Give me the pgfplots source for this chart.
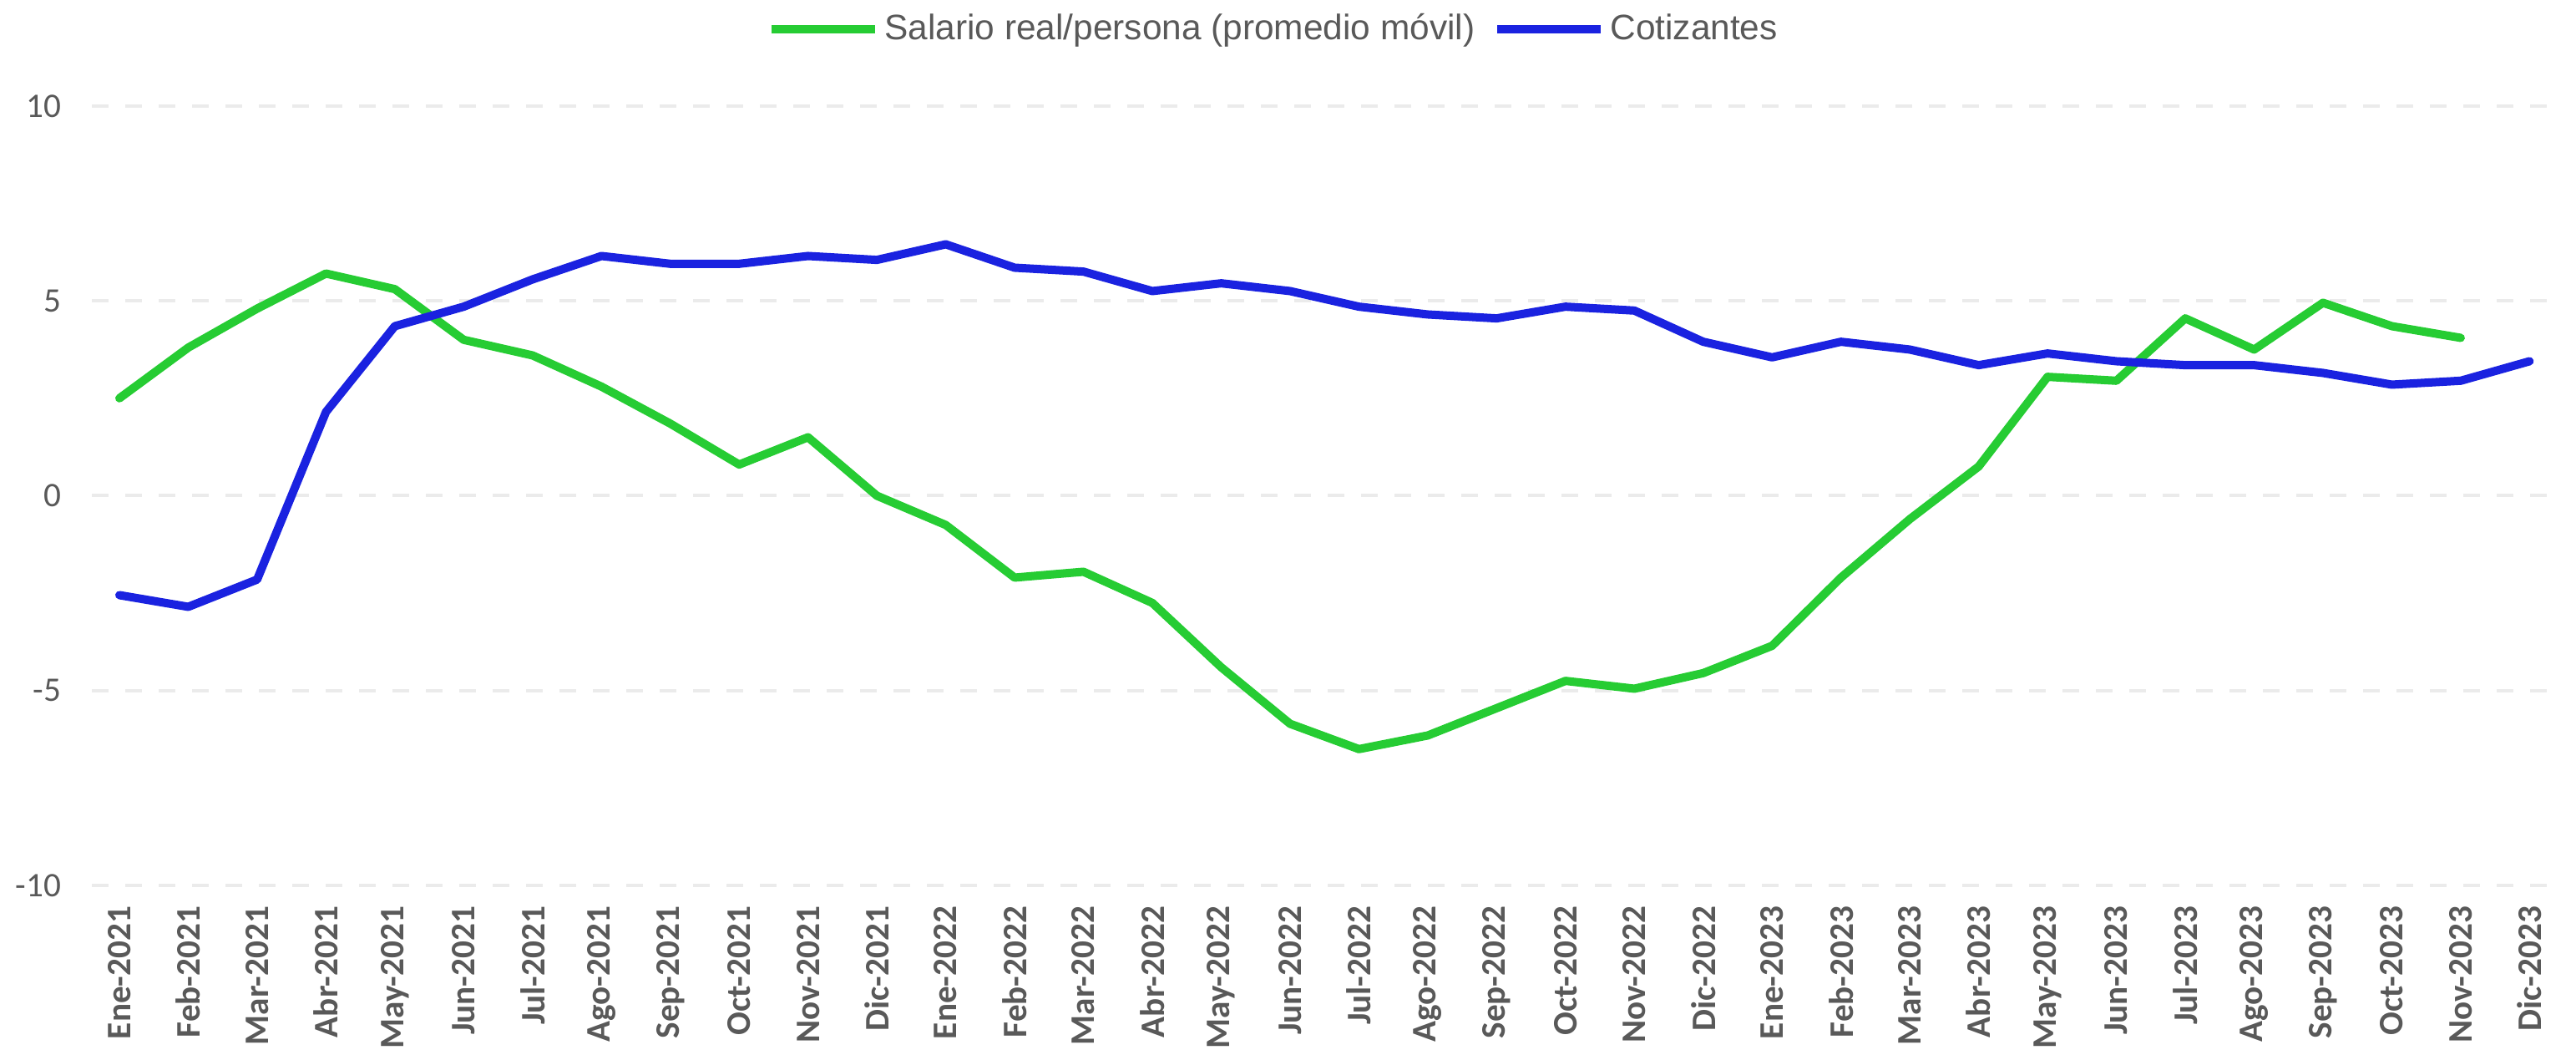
\documentclass[border=0pt]{standalone}
\usepackage{pgfplots}
\pgfplotsset{compat=1.18}
\usepackage{fontspec}
\setmainfont{Carlito}
\newfontfamily\legendfont{Liberation Sans}
\definecolor{cgreen}{HTML}{26CC33}
\definecolor{cblue}{HTML}{1A22E0}
\definecolor{ctext}{HTML}{595959}
\definecolor{cgrid}{HTML}{EBEBEB}

\pgfplotstableread{
x y
0 2.5
1 3.8
2 4.8
3 5.7
4 5.3
5 4.0
6 3.6
7 2.8
8 1.85
9 0.8
10 1.5
11 0.0
12 -0.75
13 -2.1
14 -1.95
15 -2.75
16 -4.4
17 -5.85
18 -6.5
19 -6.15
20 -5.45
21 -4.75
22 -4.95
23 -4.55
24 -3.85
25 -2.1
26 -0.6
27 0.75
28 3.05
29 2.95
30 4.55
31 3.75
32 4.95
33 4.35
34 4.05
}\salario

\pgfplotstableread{
x y
0 -2.55
1 -2.85
2 -2.15
3 2.15
4 4.35
5 4.85
6 5.55
7 6.15
8 5.95
9 5.95
10 6.15
11 6.05
12 6.45
13 5.85
14 5.75
15 5.25
16 5.45
17 5.25
18 4.85
19 4.65
20 4.55
21 4.85
22 4.75
23 3.95
24 3.55
25 3.95
26 3.75
27 3.35
28 3.65
29 3.45
30 3.35
31 3.35
32 3.15
33 2.85
34 2.95
35 3.45
}\cotizantes

\begin{document}
\begin{tikzpicture}
\useasboundingbox (-27.5bp,-50.5bp) rectangle (743.65bp,265bp);
\begin{axis}[
  at={(0,0)}, anchor=south west,
  scale only axis, width=734.9bp, height=233.3bp,
  xmin=-0.4, xmax=35.25, ymin=-10, ymax=10,
  axis lines*=left,
  axis line style={draw=none},
  major tick length=0pt,
  tick style={draw=none},
  xtick={0,...,35},
  xticklabels={Ene-2021,Feb-2021,Mar-2021,Abr-2021,May-2021,Jun-2021,Jul-2021,Ago-2021,Sep-2021,Oct-2021,Nov-2021,Dic-2021,
               Ene-2022,Feb-2022,Mar-2022,Abr-2022,May-2022,Jun-2022,Jul-2022,Ago-2022,Sep-2022,Oct-2022,Nov-2022,Dic-2022,
               Ene-2023,Feb-2023,Mar-2023,Abr-2023,May-2023,Jun-2023,Jul-2023,Ago-2023,Sep-2023,Oct-2023,Nov-2023,Dic-2023},
  xticklabel style={rotate=90, anchor=east, font=\bfseries\fontsize{10.3bp}{12bp}\selectfont, text=ctext, inner xsep=6bp},
  ytick={-10,-5,0,5,10},
  yticklabels={-10,-5,0,5,10},
  yticklabel style={font=\fontsize{10.3bp}{12bp}\selectfont, text=ctext, inner xsep=9bp},
  ymajorgrids,
  grid style={cgrid, line width=1bp, dash pattern=on 5bp off 5bp},
  legend columns=2,
  legend style={at={(0.482,1.0986)}, anchor=center, draw=none, fill=none,
    font=\legendfont\fontsize{10.6bp}{12bp}\selectfont, text=ctext,
    /tikz/every even column/.append style={column sep=4bp},
    nodes={inner xsep=1.5bp}},
  legend image code/.code={\draw[#1, line cap=butt] (0bp,0bp) -- (31bp,0bp);},
]
\addplot[cgreen, line width=2.5bp, line join=round, line cap=round] table[x=x,y=y] {\salario};
\addlegendentry{Salario real/persona (promedio móvil)}
\addplot[cblue, line width=2.5bp, line join=round, line cap=round] table[x=x,y=y] {\cotizantes};
\addlegendentry{Cotizantes}
\end{axis}
\end{tikzpicture}
\end{document}
